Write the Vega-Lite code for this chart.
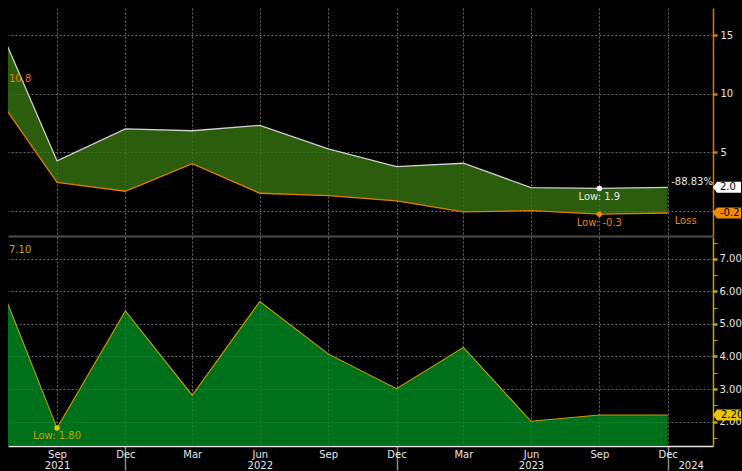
{
  "$schema": "https://vega.github.io/schema/vega-lite/v6.json",
  "background": "black",
  "padding": {"left": 8, "top": 8, "right": 0, "bottom": 0},
  "spacing": 1,
  "config": {
    "view": {"stroke": null},
    "font": "DejaVu Sans",
    "axis": {"labelColor": "#e6e6e6", "labelFontSize": 10, "labelFont": "DejaVu Sans", "gridColor": "#6a6a6a", "gridDash": [2, 2], "gridWidth": 1, "title": null},
    "text": {"font": "DejaVu Sans", "fontSize": 10}
  },
  "datasets": {
    "spread": [
      {"date": "2021/06/30", "hi": 17.8, "lo": 10.8},
      {"date": "2021/09/30", "hi": 4.26, "lo": 2.43},
      {"date": "2021/12/31", "hi": 7.0, "lo": 1.66},
      {"date": "2022/03/31", "hi": 6.84, "lo": 4.02},
      {"date": "2022/06/30", "hi": 7.3, "lo": 1.49},
      {"date": "2022/09/30", "hi": 5.28, "lo": 1.28},
      {"date": "2022/12/31", "hi": 3.77, "lo": 0.83},
      {"date": "2023/03/31", "hi": 4.06, "lo": -0.11},
      {"date": "2023/06/30", "hi": 1.97, "lo": 0.0},
      {"date": "2023/09/30", "hi": 1.9, "lo": -0.3},
      {"date": "2023/12/31", "hi": 2.0, "lo": -0.2}
    ],
    "rate": [
      {"date": "2021/06/30", "v": 7.10},
      {"date": "2021/09/30", "v": 1.80},
      {"date": "2021/12/31", "v": 5.40},
      {"date": "2022/03/31", "v": 2.81},
      {"date": "2022/06/30", "v": 5.69},
      {"date": "2022/09/30", "v": 4.08},
      {"date": "2022/12/31", "v": 3.01},
      {"date": "2023/03/31", "v": 4.28},
      {"date": "2023/06/30", "v": 2.01},
      {"date": "2023/09/30", "v": 2.20},
      {"date": "2023/12/31", "v": 2.20}
    ]
  },
  "vconcat": [
    {
      "width": 705,
      "height": 228,
      "layer": [
        {
          "data": {"name": "spread"},
          "mark": {"type": "area", "color": "#387711", "opacity": 0.78, "clip": true},
          "encoding": {
            "x": {
              "field": "date", "type": "temporal",
              "scale": {"domain": [{"year": 2021, "month": 7, "date": 26}, {"year": 2024, "month": 3, "date": 1}], "nice": false},
              "axis": {
                "orient": "bottom",
                "values": [{"year": 2021, "month": 9, "date": 30}, {"year": 2021, "month": 12, "date": 31}, {"year": 2022, "month": 3, "date": 31}, {"year": 2022, "month": 6, "date": 30}, {"year": 2022, "month": 9, "date": 30}, {"year": 2022, "month": 12, "date": 31}, {"year": 2023, "month": 3, "date": 31}, {"year": 2023, "month": 6, "date": 30}, {"year": 2023, "month": 9, "date": 30}, {"year": 2023, "month": 12, "date": 31}],
                "labels": false, "ticks": false, "domain": true, "domainColor": "#4d4d4d", "domainWidth": 2, "grid": true
              }
            },
            "y": {
              "field": "hi", "type": "quantitative",
              "scale": {"domain": [-2.17, 17.35], "nice": false, "zero": false},
              "axis": {
                "orient": "right",
                "values": [0, 2.5, 5, 7.5, 10, 12.5, 15],
                "labelExpr": "datum.value % 5 == 0 && datum.value != 0 ? datum.label : ''",
                "domainColor": "#d97a00", "domainWidth": 1.5,
                "tickColor": "#d97a00", "tickSize": 4,
                "tickWidth": {"condition": {"test": "datum.value % 5 == 0", "value": 2.5}, "value": 1},
                "gridOpacity": {"condition": {"test": "datum.value % 5 != 0", "value": 0}, "value": 1},
                "labelPadding": 3, "grid": true
              }
            },
            "y2": {"field": "lo"}
          }
        },
        {
          "data": {"name": "spread"},
          "mark": {"type": "line", "color": "#cfcfcf", "strokeWidth": 1.3, "clip": true},
          "encoding": {"x": {"field": "date", "type": "temporal"}, "y": {"field": "hi", "type": "quantitative"}}
        },
        {
          "data": {"name": "spread"},
          "mark": {"type": "line", "color": "#e07d00", "strokeWidth": 1.3, "clip": true},
          "encoding": {"x": {"field": "date", "type": "temporal"}, "y": {"field": "lo", "type": "quantitative"}}
        },
        {
          "data": {"values": [{"date": "2021/07/26", "v": 10.8, "label": "10.8"}]},
          "mark": {"type": "text", "align": "left", "baseline": "bottom", "color": "#e07d00", "dx": 1, "dy": -1},
          "encoding": {"x": {"field": "date", "type": "temporal"}, "y": {"field": "v", "type": "quantitative"}, "text": {"field": "label"}}
        },
        {
          "data": {"values": [{"date": "2023/09/30", "v": 1.9, "label": "Low: 1.9"}]},
          "layer": [
            {"mark": {"type": "point", "filled": true, "color": "white", "size": 30, "opacity": 1}},
            {"mark": {"type": "text", "align": "center", "baseline": "middle", "color": "#e6e6e6", "dy": 9}, "encoding": {"text": {"field": "label"}}}
          ],
          "encoding": {"x": {"field": "date", "type": "temporal"}, "y": {"field": "v", "type": "quantitative"}}
        },
        {
          "data": {"values": [{"date": "2023/09/30", "v": -0.3, "label": "Low: -0.3"}]},
          "layer": [
            {"mark": {"type": "point", "filled": true, "color": "#f08a00", "size": 30, "opacity": 1}},
            {"mark": {"type": "text", "align": "center", "baseline": "middle", "color": "#e8850a", "dy": 9}, "encoding": {"text": {"field": "label"}}}
          ],
          "encoding": {"x": {"field": "date", "type": "temporal"}, "y": {"field": "v", "type": "quantitative"}}
        },
        {
          "data": {"values": [{"date": "2023/12/31", "v": -0.2, "label": "Loss"}]},
          "mark": {"type": "text", "align": "left", "baseline": "middle", "color": "#e8850a", "dx": 7, "dy": 8},
          "encoding": {"x": {"field": "date", "type": "temporal"}, "y": {"field": "v", "type": "quantitative"}, "text": {"field": "label"}}
        },
        {
          "data": {"values": [{"date": "2024/03/01", "v": 2.0, "label": "-88.83%"}]},
          "mark": {"type": "text", "align": "right", "baseline": "middle", "color": "#e6e6e6", "dx": 0, "dy": -5},
          "encoding": {"x": {"field": "date", "type": "temporal"}, "y": {"field": "v", "type": "quantitative"}, "text": {"field": "label"}}
        },
        {
          "data": {"values": [{"date": "2024/03/01", "v": 2.0, "label": "2.0"}]},
          "layer": [
            {"mark": {"type": "point", "filled": true, "color": "white", "opacity": 1, "size": 100, "shape": "M0,0L0.8,-1.1L5.6,-1.1L5.6,1.1L0.8,1.1Z", "clip": false}},
            {"mark": {"type": "text", "align": "left", "baseline": "middle", "color": "black", "dx": 7}, "encoding": {"text": {"field": "label"}}}
          ],
          "encoding": {"x": {"field": "date", "type": "temporal"}, "y": {"field": "v", "type": "quantitative"}}
        },
        {
          "data": {"values": [{"date": "2024/03/01", "v": -0.2, "label": "-0.2"}]},
          "layer": [
            {"mark": {"type": "point", "filled": true, "color": "#f28c00", "opacity": 1, "size": 100, "shape": "M0,0L0.8,-1.1L5.6,-1.1L5.6,1.1L0.8,1.1Z", "clip": false}},
            {"mark": {"type": "text", "align": "left", "baseline": "middle", "color": "black", "dx": 7}, "encoding": {"text": {"field": "label"}}}
          ],
          "encoding": {"x": {"field": "date", "type": "temporal"}, "y": {"field": "v", "type": "quantitative"}}
        }
      ]
    },
    {
      "width": 705,
      "height": 209,
      "encoding": {
        "x": {
          "field": "date", "type": "temporal",
          "scale": {"domain": [{"year": 2021, "month": 7, "date": 26}, {"year": 2024, "month": 3, "date": 1}], "nice": false},
          "axis": {
            "orient": "bottom",
            "values": [{"year": 2021, "month": 9, "date": 30}, {"year": 2021, "month": 12, "date": 31}, {"year": 2022, "month": 3, "date": 31}, {"year": 2022, "month": 6, "date": 30}, {"year": 2022, "month": 9, "date": 30}, {"year": 2022, "month": 12, "date": 31}, {"year": 2023, "month": 3, "date": 31}, {"year": 2023, "month": 6, "date": 30}, {"year": 2023, "month": 9, "date": 30}, {"year": 2023, "month": 12, "date": 31}, {"year": 2024, "month": 1, "date": 31}],
            "labelExpr": "month(datum.value) == 0 ? ['', timeFormat(datum.value, '%Y')] : (((year(datum.value) == 2021 && month(datum.value) == 8) || month(datum.value) == 5) ? [timeFormat(datum.value, '%b'), timeFormat(datum.value, '%Y')] : timeFormat(datum.value, '%b'))",
            "ticks": true, "tickSize": 24, "tickColor": "#8a8a8a", "tickWidth": 1.5,
            "tickOpacity": {"condition": {"test": "month(datum.value) == 11", "value": 1}, "value": 0},
            "domain": true, "domainColor": "#e8e8e8", "domainWidth": 1.5,
            "grid": true,
            "gridOpacity": {"condition": {"test": "month(datum.value) == 0", "value": 0}, "value": 1},
            "labelPadding": -21, "labelLineHeight": 11, "labelAlign": "center", "labelBaseline": "top",
            "labelOverlap": false, "labelBound": false, "labelFlush": false
          }
        },
        "y": {
          "field": "v", "type": "quantitative",
          "scale": {"domain": [1.25, 7.67], "nice": false, "zero": false},
          "axis": {
            "orient": "right",
            "values": [1.5, 2, 2.5, 3, 3.5, 4, 4.5, 5, 5.5, 6, 6.5, 7, 7.5],
            "labelExpr": "datum.value % 1 == 0 ? format(datum.value, '.2f') : ''",
            "domainColor": "#c8a800", "domainWidth": 1.5,
            "tickColor": "#c8a800", "tickSize": 4,
            "tickWidth": {"condition": {"test": "datum.value % 1 == 0", "value": 2.5}, "value": 1},
            "gridOpacity": {"condition": {"test": "datum.value % 1 != 0", "value": 0}, "value": 1},
            "labelPadding": 2, "grid": true
          }
        }
      },
      "layer": [
        {
          "data": {"name": "rate"},
          "mark": {"type": "area", "color": "#009023", "opacity": 0.78, "clip": true}
        },
        {
          "data": {"name": "rate"},
          "mark": {"type": "line", "color": "#c8a000", "strokeWidth": 1.1, "clip": true}
        },
        {
          "data": {"values": [{"date": "2021/07/26", "v": 7.10, "label": "7.10"}]},
          "mark": {"type": "text", "align": "left", "baseline": "bottom", "color": "#c9a800", "dx": 1, "dy": -1},
          "encoding": {"text": {"field": "label"}}
        },
        {
          "data": {"values": [{"date": "2021/09/30", "v": 1.80, "label": "Low: 1.80"}]},
          "layer": [
            {"mark": {"type": "point", "filled": true, "color": "#e6c200", "size": 30, "opacity": 1}},
            {"mark": {"type": "text", "align": "center", "baseline": "middle", "color": "#b8a800", "dy": 8}, "encoding": {"text": {"field": "label"}}}
          ]
        },
        {
          "data": {"values": [{"date": "2024/03/01", "v": 2.2, "label": "2.20"}]},
          "layer": [
            {"mark": {"type": "point", "filled": true, "color": "#e8c600", "opacity": 1, "size": 100, "shape": "M0,0L0.8,-1.1L5.6,-1.1L5.6,1.1L0.8,1.1Z", "clip": false}},
            {"mark": {"type": "text", "align": "left", "baseline": "middle", "color": "black", "dx": 8}, "encoding": {"text": {"field": "label"}}}
          ]
        }
      ]
    }
  ]
}
